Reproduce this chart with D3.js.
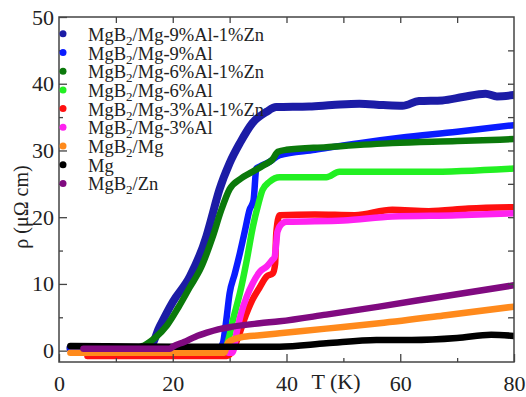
<!DOCTYPE html>
<html>
<head>
<meta charset="utf-8">
<script src="https://cdn.jsdelivr.net/npm/d3@7"></script>
<style>
  body { margin: 0; background: #fff; }
  svg text { font-family: "Liberation Serif", "Times New Roman", serif; fill: #222; }
</style>
</head>
<body>
<div id="chart"></div>
<script>
// series, [T (K), rho (uOhm cm)]
var mgAl9Zn1 = [[2,0.4],[8,0.4],[14,0.4],[16,0.6],[17.7,3.6],[20,7.3],[23,11.1],[25.9,17.1],[26.7,19.5],[28.2,24.1],[30,28.1],[31.8,31.1],[34,34.1],[36.5,35.8],[38.2,36.5],[44,36.6],[48,36.8],[52.8,37],[57,36.8],[60.4,36.7],[63.3,37.4],[67.4,37.5],[71,38],[75,38.5],[77,38.1],[80,38.3]];
var mgAl9 = [[2,0.3],[28,0.3],[28.8,1.1],[29.4,4.5],[30,8.6],[30.9,11.5],[31.8,14.6],[32.7,18],[33.5,21.1],[34.2,22.5],[34.7,27.3],[35.3,27.6],[37,28.3],[38.8,29.3],[45,30.1],[52.8,31.1],[60,31.9],[70,32.8],[80,33.8]];
var mgAl6Zn1 = [[5,0.5],[14,0.5],[15,0.8],[17,2],[19,3.8],[21,6.5],[23,9.5],[25,12.5],[27,17],[28.5,21],[30,24.2],[32,25.8],[34,26.8],[36,27.8],[37.5,28.6],[38.5,29.8],[40,30.1],[47,30.5],[58.6,31.1],[70,31.4],[80,31.7]];
var mgAl6 = [[5,0.3],[29.2,0.3],[29.6,1.1],[30.7,5],[31.8,8.6],[33,13.5],[34.1,18.6],[35,21.8],[35.8,24.1],[37,25.3],[38.8,26],[47,26],[49.3,26.8],[64.6,26.8],[80,27.3]];
var mgAl3Zn1 = [[5,-0.8],[29.5,-0.8],[30.3,-0.3],[31.5,2],[32.5,4.5],[34,7.6],[35.3,9.5],[36.5,11.1],[37.6,11.6],[38,13],[38.2,17.6],[38.8,20.3],[45,20.4],[52,20.3],[58.6,21.1],[65,20.9],[72,21.3],[80,21.5]];
var mgAl3 = [[29.8,-0.3],[30.5,-0.3],[31.3,3],[32,5.5],[33,8.1],[34,10],[35.3,11.8],[36.5,12.6],[37.5,13.6],[37.9,14],[38.2,16.1],[38.4,17.8],[39.3,19.1],[40,19.3],[50,19.5],[58.6,20.1],[70,20.3],[80,20.6]];
var mgPure = [[2,-0.3],[29,-0.3],[29.8,1.3],[32,2],[35.3,2.3],[38.8,2.6],[47,3.3],[56.3,4.1],[68,5.3],[80,6.6]];
var mgOnly = [[2,0.7],[20,0.6],[30,0.6],[38.8,0.6],[47,1.1],[55.8,1.6],[62,1.6],[70,1.9],[76,2.4],[80,2.2]];
var mgB2Zn = [[4.3,0.3],[19.5,0.3],[20,0.6],[22,1.3],[24,2.1],[26,2.7],[28,3.2],[30.5,3.6],[35.3,4.1],[38.8,4.4],[47,5.4],[56.3,6.6],[68,8.2],[80,9.8]];

// legend labels: [before subscript, subscript, after]
var seriesNames = [
  ["MgB", "2", "/Mg-9%Al-1%Zn"],
  ["MgB", "2", "/Mg-9%Al"],
  ["MgB", "2", "/Mg-6%Al-1%Zn"],
  ["MgB", "2", "/Mg-6%Al"],
  ["MgB", "2", "/Mg-3%Al-1%Zn"],
  ["MgB", "2", "/Mg-3%Al"],
  ["MgB", "2", "/Mg"],
  ["Mg", "", ""],
  ["MgB", "2", "/Zn"]
];
var seriesColors = ["#1c1ca6", "#0a1cff", "#0b790b", "#22f022", "#ff1010", "#ff22f0", "#ff8a1c", "#000000", "#800a80"];
var seriesData = [mgAl9Zn1, mgAl9, mgAl6Zn1, mgAl6, mgAl3Zn1, mgAl3, mgPure, mgOnly, mgB2Zn];

var xTicks = [0, 20, 40, 60, 80];
var yTicks = [0, 10, 20, 30, 40, 50];

var width = 526, height = 397;
var margin = {top: 17, right: 12, bottom: 35, left: 59};
var serif = "'Liberation Serif', 'Times New Roman', serif";

var x = d3.scaleLinear().domain([0, 80]).range([margin.left, width - margin.right]);
var y = d3.scaleLinear().domain([-1.7, 50]).range([height - margin.bottom, margin.top]);

var svg = d3.select("#chart").append("svg")
    .attr("width", width)
    .attr("height", height);

svg.append("clipPath").attr("id", "plotClip")
  .append("rect")
    .attr("x", x.range()[0]).attr("y", y.range()[1])
    .attr("width", x.range()[1] - x.range()[0])
    .attr("height", y.range()[0] - y.range()[1]);

var line = d3.line()
    .x(function(d) { return x(d[0]); })
    .y(function(d) { return y(d[1]); })
    .curve(d3.curveMonotoneX);

var plot = svg.append("g").attr("clip-path", "url(#plotClip)");
plot.selectAll("path.series")
    .data(seriesData)
    .enter()
    .append("path")
      .attr("class", "series")
      .attr("d", line)
      .style("fill", "none")
      .style("stroke", function(d, i) { return seriesColors[i]; })
      .style("stroke-width", function(d, i) { return i === 0 ? 8 : 6.5; })
      .style("stroke-linecap", "round")
      .style("stroke-linejoin", "round");

// axes, ticks pointing inward
var axisColor = "#444";
function styleAxis(g) {
  g.attr("font-family", null).attr("font-size", null);
  g.select(".domain").remove();
  g.selectAll(".tick line").style("stroke", axisColor).style("stroke-width", 1.3);
  g.selectAll(".tick text").style("font-family", serif).style("font-size", "22px").attr("fill", "#222");
}

svg.append("g")
    .attr("transform", "translate(0," + y.range()[0] + ")")
    .call(d3.axisBottom(x).tickValues(xTicks).tickSize(-8).tickPadding(13).tickFormat(d3.format("d")))
    .call(styleAxis);

svg.append("g")
    .attr("transform", "translate(0," + y.range()[0] + ")")
    .call(d3.axisBottom(x).tickValues([10, 30, 50, 70]).tickSize(-4).tickFormat(""))
    .call(styleAxis);

svg.append("g")
    .attr("transform", "translate(0," + y.range()[1] + ")")
    .call(d3.axisTop(x).tickValues(d3.range(10, 80, 10)).tickSize(-6).tickFormat(""))
    .call(styleAxis);

svg.append("g")
    .attr("transform", "translate(" + x.range()[0] + ",0)")
    .call(d3.axisLeft(y).tickValues(yTicks).tickSize(-8).tickPadding(5))
    .call(styleAxis);

svg.append("g")
    .attr("transform", "translate(" + x.range()[0] + ",0)")
    .call(d3.axisLeft(y).tickValues([5, 15, 25, 35, 45]).tickSize(-4).tickFormat(""))
    .call(styleAxis);

svg.append("g")
    .attr("transform", "translate(" + x.range()[1] + ",0)")
    .call(d3.axisRight(y).tickValues(d3.range(5, 50, 5)).tickSize(-6).tickFormat(""))
    .call(styleAxis);

svg.append("rect")
    .attr("x", x.range()[0]).attr("y", y.range()[1])
    .attr("width", x.range()[1] - x.range()[0])
    .attr("height", y.range()[0] - y.range()[1])
    .style("fill", "none")
    .style("stroke", axisColor)
    .style("stroke-width", 1.5);

// axis titles
svg.append("text")
    .attr("x", 336).attr("y", 389)
    .attr("text-anchor", "middle")
    .style("font-family", serif)
    .style("font-size", "22px")
    .text("T  (K)");

svg.append("text")
    .attr("transform", "translate(28,207) rotate(-90)")
    .attr("text-anchor", "middle")
    .style("font-family", serif)
    .style("font-size", "20px")
    .text("\u03c1  (\u03bc\u03a9 cm)");

// legend
var legend = svg.append("g").attr("class", "legend");
var rows = legend.selectAll("g.row")
    .data(seriesNames)
    .enter()
    .append("g")
      .attr("class", "row")
      .attr("transform", function(d, i) { return "translate(63," + (33.8 + i * 18.7) + ")"; });

rows.append("circle")
    .attr("r", 3.5)
    .style("fill", function(d, i) { return seriesColors[i]; });

var labels = rows.append("text")
    .attr("x", 25)
    .attr("y", 7)
    .style("font-family", serif)
    .style("font-size", "18.5px");
labels.append("tspan").text(function(d) { return d[0]; });
labels.append("tspan")
    .attr("dy", 4)
    .style("font-size", "13px")
    .text(function(d) { return d[1]; });
labels.append("tspan")
    .attr("dy", function(d) { return d[1] ? -4 : 0; })
    .text(function(d) { return d[2]; });
</script>
</body>
</html>
